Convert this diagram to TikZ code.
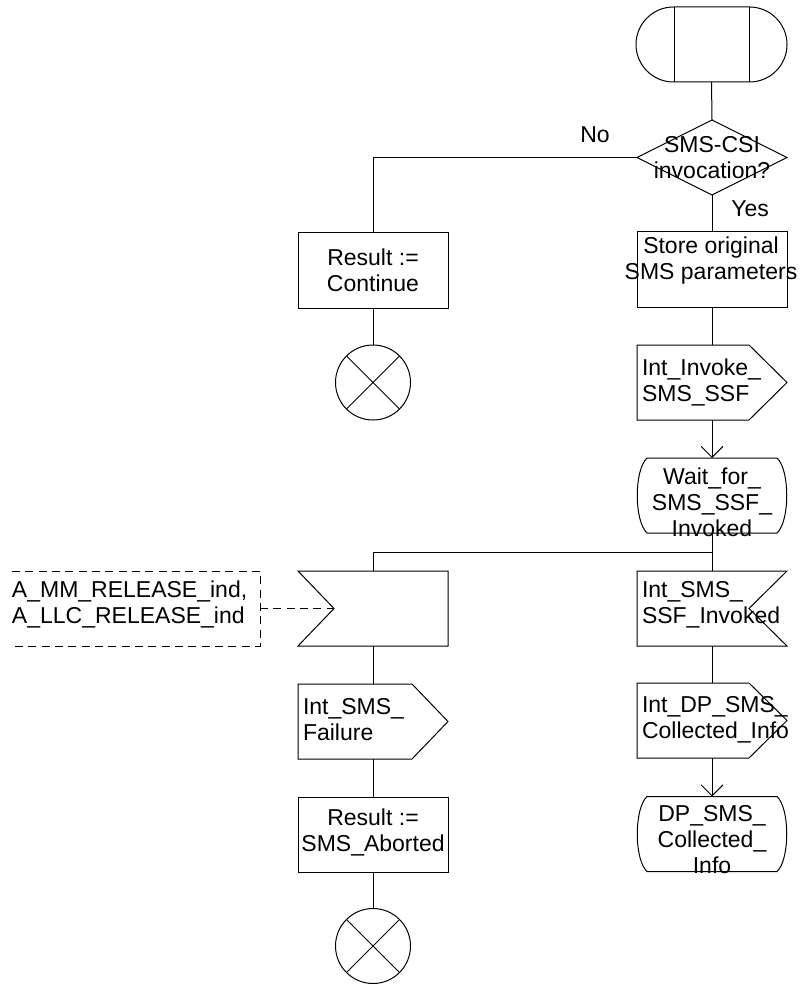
\documentclass[tikz,border=0pt]{standalone}
\usepackage{fontspec}
\setmainfont{Liberation Sans}
\usetikzlibrary{shapes.geometric,arrows.meta,calc}
\newcommand\drawOutSig[2]{\draw (#1.north west) -- ($(#1.north east)+(-#2,0)$) -- (#1.east) -- ($(#1.south east)+(-#2,0)$) -- (#1.south west) -- cycle;}
\newcommand\drawInSig[1]{\draw (#1.north west) -- (#1.north east) -- ($(#1.east)+(-38,0)$) -- (#1.south east) -- (#1.south west) -- cycle;}
\newcommand\drawStateSym[1]{\draw ($(#1.north west)+(10,0)$) -- ($(#1.north east)+(-10,0)$) .. controls ($(#1.north east)+(3,12)$) and ($(#1.south east)+(3,-12)$) .. ($(#1.south east)+(-10,0)$) -- ($(#1.south west)+(10,0)$) .. controls ($(#1.south west)+(-3,-12)$) and ($(#1.north west)+(-3,12)$) .. ($(#1.north west)+(10,0)$) -- cycle;}
\newcommand\drawStopX[1]{\draw (#1.north west) -- (#1.south east) (#1.north east) -- (#1.south west);}
\begin{document}
\begin{tikzpicture}[x=0.75pt,y=-0.75pt, line width=0.75pt,
  every node/.style={font=\fontsize{17.25pt}{19.5pt}\selectfont, inner sep=0pt, outer sep=0pt},
  frame/.style={rectangle, minimum width=112.5pt, minimum height=56.25pt},
  boxed/.style={frame, draw},
  txt/.style={align=center},
  ltxt/.style={align=left, anchor=west},
  stopsym/.style={circle, draw, minimum size=56.25pt},
  arr/.style={-{Straight Barb[length=8.25pt,width=16.5pt]}},
  cmt/.style={dash pattern=on 6pt off 4pt}
]
\useasboundingbox (0,0) rectangle (800,984);

% start symbol
\node[frame, draw, rounded corners=28.125pt, minimum width=113.25pt] (start) at (711.5,44.5) {};
\draw ($(start.north west)+(38,0)$) -- ($(start.south west)+(38,0)$);
\draw ($(start.north east)+(-38,0)$) -- ($(start.south east)+(-38,0)$);

% decision
\node[diamond, aspect=2, draw, minimum width=112.5pt, minimum height=56.25pt] (dec) at (712,157.5) {};
\node[txt] (decT) at (712,157.5) {SMS-CSI\\invocation?};
\node (no) at (595,135) {No};
\node (yes) at (750,209) {Yes};

% No branch
\node[boxed] (res1) at (373,270.5) {};
\node[txt] (res1T) at (373,270) {Result :=\\Continue};
\node[stopsym] (stop1) at (373,382.5) {};
\drawStopX{stop1}

% Yes branch
\node[boxed] (store) at (712,269.5) {};
\node[txt] (storeT) at (711,261) {Store original\\SMS parameters};

\node[frame] (inv) at (712,382.5) {};
\drawOutSig{inv}{38}
\node[ltxt] (invT) at (642,382.5) {Int\_Invoke\_\\SMS\_SSF};

\node[frame] (wait) at (712,495.5) {};
\drawStateSym{wait}
\node[txt] (waitT) at (712,502) {Wait\_for\_\\SMS\_SSF\_\\Invoked};

\coordinate (j) at (712,552);

\node[frame] (ssfinv) at (712,608.5) {};
\drawInSig{ssfinv}
\node[ltxt] (ssfinvT) at (642,604.5) {Int\_SMS\_\\SSF\_Invoked};

\node[frame] (dpout) at (712,720.5) {};
\drawOutSig{dpout}{38}
\node[ltxt] (dpoutT) at (642,720) {Int\_DP\_SMS\_\\Collected\_Info};

\node[frame] (dpstate) at (712,834) {};
\drawStateSym{dpstate}
\node[txt] (dpstateT) at (712,840) {DP\_SMS\_\\Collected\_\\Info};

% release branch
\node[frame] (relin) at (373,608.5) {};
\coordinate (relnotch) at ($(relin.west)+(36,0)$);
\draw (relin.north west) -- (relin.north east) -- (relin.south east) -- (relin.south west) -- (relnotch) -- cycle;

\node[frame, minimum width=186pt] (comment) at (136,608.5) {};
\draw[cmt] (comment.north west) -- (comment.north east) -- (comment.south east) -- (comment.south west);
\node[ltxt] (commentT) at (12,604.5) {A\_MM\_RELEASE\_ind,\\A\_LLC\_RELEASE\_ind};

\node[frame] (fail) at (373,721.5) {};
\drawOutSig{fail}{36}
\node[ltxt] (failT) at (303,720) {Int\_SMS\_\\Failure};

\node[boxed] (res2) at (373,834.5) {};
\node[txt] (res2T) at (373,832.5) {Result :=\\SMS\_Aborted};
\node[stopsym] (stop2) at (373,946) {};
\drawStopX{stop2}

% connectors
\draw (start.south) -- (dec.north);
\draw (dec.west) -| (res1.north);
\draw (dec.south) -- (store.north);
\draw (res1.south) -- (stop1.north);
\draw (store.south) -- (inv.north);
\draw[arr] (inv.south) -- (wait.north);
\draw (wait.south) -- (ssfinv.north);
\draw (j) -| (relin.north);
\draw (ssfinv.south) -- (dpout.north);
\draw[arr] (dpout.south) -- (dpstate.north);
\draw (relin.south) -- (fail.north);
\draw (fail.south) -- (res2.north);
\draw (res2.south) -- (stop2.north);
\draw[cmt] (comment.east) -- (relnotch);
\end{tikzpicture}
\end{document}
